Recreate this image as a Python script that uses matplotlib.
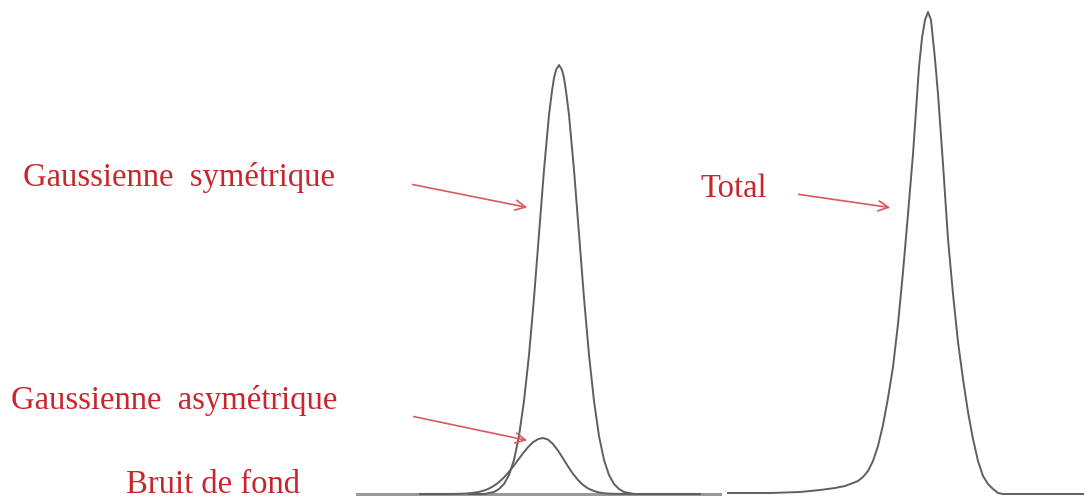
import matplotlib
matplotlib.use('Agg')
from matplotlib import pyplot as plt

# Define data (channel, intensity above the baseline).
sym_x = [469, 479, 484, 489, 494, 499, 504, 509, 514, 519, 524, 529, 534,
         539, 544, 549, 552, 554, 556, 559, 562, 564, 566, 569, 574, 579,
         584, 589, 594, 599, 604, 609, 614, 619, 624, 629, 634, 649, 700]
sym_h = [0, 0, 0, 1, 2, 5, 10, 19, 34, 58, 93, 139, 196,
         260, 324, 379, 403, 416, 424, 429, 424, 416, 403, 379, 324, 260,
         196, 139, 93, 58, 34, 19, 10, 5, 2, 1, 0, 0, 0]

asym_x = [420, 443, 453, 463, 468, 473, 478, 483, 488, 493, 498, 503, 508,
          513, 518, 523, 528, 533, 538, 543, 548, 553, 558, 563, 568, 573,
          578, 583, 588, 593, 598, 603, 608, 613, 640]
asym_h = [0, 0, 0.1, 0.3, 0.6, 1.1, 1.9, 3.1, 5.0, 7.6, 11.1, 15.6, 21,
          27.3, 34, 40.7, 46.8, 51.7, 54.9, 56, 54.4, 50, 43.4, 35.6, 27.6, 20.2,
          14, 9.1, 5.6, 3.3, 1.8, 0.9, 0.4, 0.2, 0]

bg_x = [357, 720]
bg_h = [0, 0]

total_x = [728, 770, 800, 820, 835, 845, 853, 858, 863, 868, 873, 878, 883,
           888, 893, 898, 903, 908, 913, 919, 922, 925, 928, 931, 935, 938,
           943, 948, 953, 958, 963, 968, 973, 978, 983, 988, 993, 998, 1003,
           1084]
total_h = [1, 1, 2, 4, 6, 8, 11, 13, 17, 23, 33, 48, 69,
           96, 127, 170, 222, 280, 340, 427, 456, 474, 482, 474, 435, 400,
           330, 255, 200, 152, 115, 82, 55, 33, 18, 10, 5, 1, 0,
           0]

# Labels: (text, x, baseline), arrows: (tail, head).
labels = ["Gaussienne  symétrique", "Total", "Gaussienne  asymétrique",
          "Bruit de fond"]
label_x = [23, 700, 11, 126]
label_y = [308, 297, 85, 1]
arrow_tail = [(410, 310), (796, 300), (411, 78)]
arrow_head = [(530, 286), (893, 286), (530, 53)]

# Make plot.
fig = plt.figure(figsize=(10.84, 4.99), dpi=100)
ax = fig.add_axes([0, 0, 1, 1])

line_color = '#5f5f5f'
ax.plot(bg_x, bg_h, color='#9a9a9a', linewidth=2.2)
ax.plot(sym_x, sym_h, color=line_color, linewidth=1.4)
ax.plot(asym_x, asym_h, color=line_color, linewidth=1.4)
ax.plot(total_x, total_h, color=line_color, linewidth=1.4)

red = '#c9252c'
for text, x, y in zip(labels, label_x, label_y):
    ax.text(x, y, text, color=red, fontsize=23.5, family='Liberation Serif',
            ha='left', va='baseline')

for tail, head in zip(arrow_tail, arrow_head):
    ax.annotate('', xy=head, xytext=tail,
                arrowprops=dict(arrowstyle='->', color='#d9595d', lw=1.2,
                                mutation_scale=18))

# Customize plot.
ax.set_xlim(0, 1084)
ax.set_ylim(-5, 494)
ax.axis('off')

fig.savefig('out.png', dpi=100)
